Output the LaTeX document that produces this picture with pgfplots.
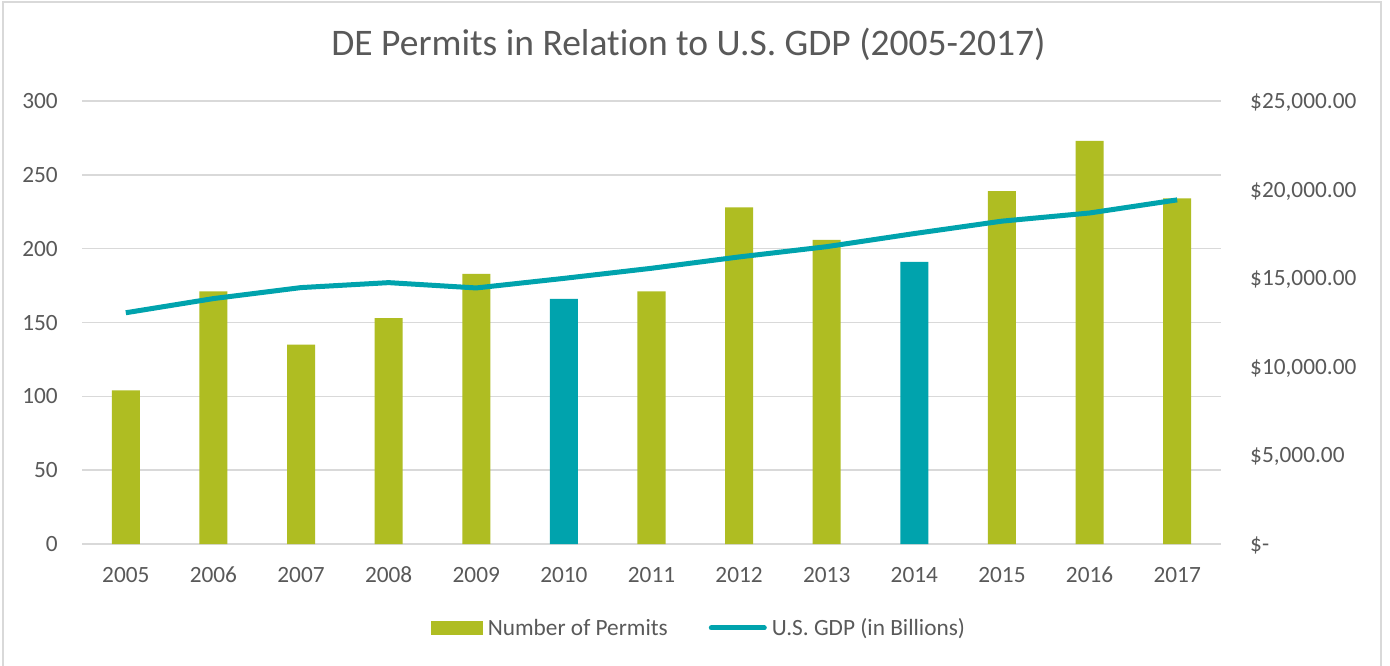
\documentclass[border=0pt]{standalone}
\usepackage{pgfplots}
\pgfplotsset{compat=1.18}
\usepackage{fontspec}
\setmainfont{Carlito}[Ligatures=NoCommon]
\definecolor{oliveC}{HTML}{AFBD22}
\definecolor{tealC}{HTML}{00A3AD}
\definecolor{gridC}{HTML}{D9D9D9}
\definecolor{txtC}{HTML}{595959}
\begin{document}
\begin{tikzpicture}
\useasboundingbox (0pt,0pt) rectangle (1390pt,665pt);
\fill[white] (0pt,0pt) rectangle (1390pt,665pt);
\draw[gridC, line width=1.5pt] (3pt,-10pt) rectangle (1381pt,663pt);
\begin{axis}[
  at={(82pt,121pt)}, anchor=south west,
  scale only axis, width=1139pt, height=443pt,
  xmin=-0.5, xmax=12.5, ymin=0, ymax=300,
  xtick={0,...,12},
  xticklabels={2005,2006,2007,2008,2009,2010,2011,2012,2013,2014,2015,2016,2017},
  ytick={0,50,...,300},
  ymajorgrids, grid style={draw=gridC, line width=1.6pt},
  axis line style={draw=none}, tick style={draw=none},
  major tick length=0pt,
  /pgf/number format/assume math mode=true,
  ticklabel style={font=\fontsize{23.3}{27}\selectfont, text=txtC},
  xticklabel style={inner sep=0pt, anchor=base, yshift=-38pt},
  yticklabel style={inner sep=0pt, anchor=base east, xshift=-24pt, yshift=-7.5pt},
  title={DE Permits in Relation to U.S. GDP (2005-2017)},
  title style={font=\fontsize{37.5}{44}\selectfont, text=txtC, at={(0.5325,1)}, anchor=center, yshift=51pt},
  legend columns=2,
  legend style={draw=none, fill=none, at={(0.543,-0.1896)}, anchor=center,
    font=\fontsize{23.3}{27}\selectfont, text=txtC,
    /tikz/every even column/.append style={column sep=36pt},
    nodes={inner sep=0pt, inner xsep=5pt}},
  clip=false,
]
\addplot[ybar, bar width=28pt, bar shift=0pt, fill=oliveC, draw=none,
  legend image code/.code={\fill[oliveC] (0pt,-7pt) rectangle (52pt,7pt);}]
  coordinates {(0,104) (1,171) (2,135) (3,153) (4,183) (6,171) (7,228) (8,206) (10,239) (11,273) (12,234)};
\addlegendentry{Number of Permits}
\addplot[ybar, bar width=28pt, bar shift=0pt, fill=tealC, draw=none, forget plot]
  coordinates {(5,166) (9,191)};
\addlegendimage{legend image code/.code={\draw[tealC, line width=5pt, line cap=round] (2pt,0pt) -- (55pt,0pt);}}
\addlegendentry{U.S. GDP (in Billions)}
\end{axis}
\begin{axis}[
  at={(82pt,121pt)}, anchor=south west,
  scale only axis, width=1139pt, height=443pt,
  xmin=-0.5, xmax=12.5, ymin=0, ymax=25000,
  hide x axis,
  axis y line*=right,
  axis line style={draw=none}, tick style={draw=none},
  major tick length=0pt,
  scaled y ticks=false,
  ytick={0,5000,10000,15000,20000,25000},
  yticklabels={\$-,{\$5,000.00},{\$10,000.00},{\$15,000.00},{\$20,000.00},{\$25,000.00}},
  yticklabel style={font=\fontsize{23.3}{27}\selectfont, text=txtC, inner sep=0pt, anchor=base west, xshift=29pt, yshift=-7.5pt},
  clip=false,
]
\addplot[tealC, line width=5pt, line join=round] coordinates {
  (0,13050) (1,13850) (2,14470) (3,14750) (4,14450) (5,14990) (6,15560)
  (7,16200) (8,16780) (9,17520) (10,18220) (11,18680) (12,19420)};
\end{axis}
\end{tikzpicture}
\end{document}
